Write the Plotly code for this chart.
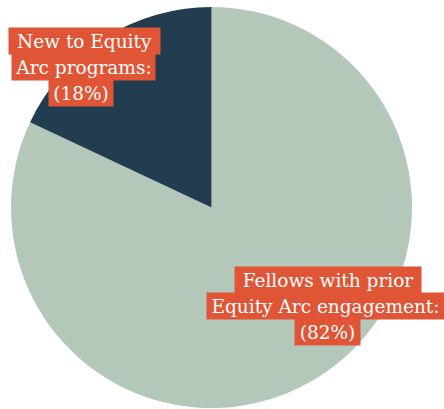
import plotly.graph_objects as go

categories = ["New to Equity Arc programs:", "Fellows with prior Equity Arc engagement:"]
values = [18, 82]
colors = ["#233D50", "#B4C8BA"]
label_lines = [
    ["New to Equity", "Arc programs:"],
    ["Fellows with prior", "Equity Arc engagement:"],
]

W, H = 444, 409
ORANGE = "#E05535"

# drawn clockwise from 12 o'clock, larger slice first so the small one sits top-left
fig = go.Figure(go.Pie(
    labels=categories[::-1],
    values=values[::-1],
    marker=dict(colors=colors[::-1], line=dict(width=0)),
    sort=False,
    direction="clockwise",
    rotation=0,
    textinfo="none",
    hoverinfo="label+percent",
    showlegend=False,
    domain=dict(x=[11 / W, 412 / W], y=[1 - 408 / H, 1 - 7 / H]),
))

# line boxes: (center x, center y, box width) in pixels
boxes = [
    [(84.5, 40.5, 151), (83.5, 66.5, 143), (81, 93, 64)],
    [(328, 280, 186), (325.5, 306, 237), (327.5, 332, 65)],
]

annotations = []
for i, lines in enumerate(label_lines):
    texts = lines + [f"({values[i]}%)"]
    for t, (cx, cy, bw) in zip(texts, boxes[i]):
        annotations.append(dict(
            text=t, x=cx / W, y=1 - cy / H, xref="paper", yref="paper",
            xanchor="center", yanchor="middle", showarrow=False,
            bgcolor=ORANGE, borderpad=1, width=bw - 2, height=24,
            font=dict(family="DejaVu Serif", size=18.5, color="white"),
        ))

fig.update_layout(
    width=W, height=H,
    margin=dict(l=0, r=0, t=0, b=0),
    paper_bgcolor="white",
    plot_bgcolor="white",
    annotations=annotations,
)

fig.write_html("out.html", config={"displayModeBar": False},
               post_script="document.body.style.margin='0';")
